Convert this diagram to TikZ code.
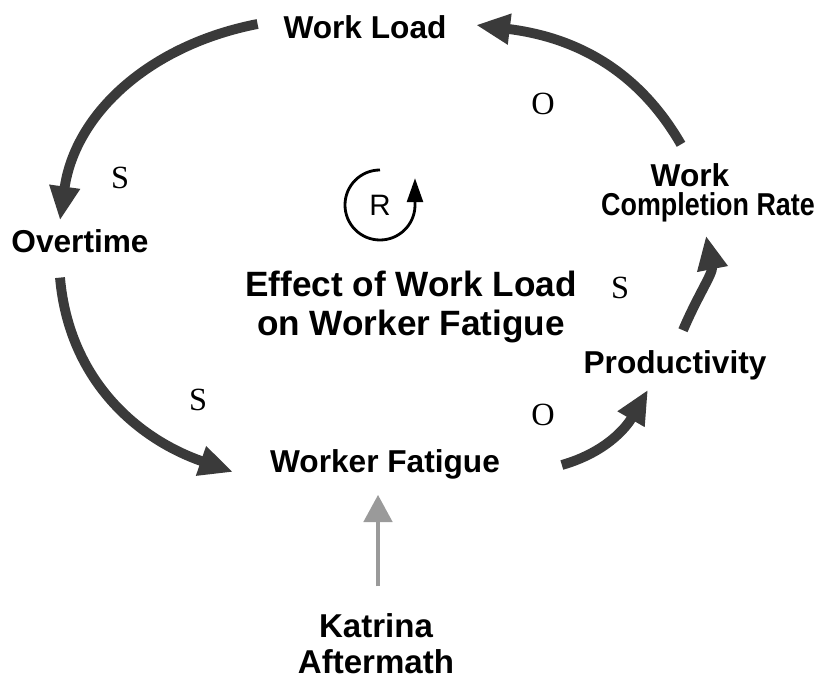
\documentclass[tikz,border=0pt]{standalone}
\usepackage{fontspec}
\setmainfont{Liberation Sans}
\newfontfamily\polfont{Liberation Serif}
\usepackage{graphicx}
\usepackage{tikz}
\usetikzlibrary{arrows.meta, positioning, calc}
\definecolor{linkgray}{HTML}{3A3A3A}
\definecolor{extgray}{HTML}{9A9A9A}
\tikzset{
  var/.style={font=\fontsize{22.5}{25}\selectfont\bfseries, align=center,
              inner sep=0pt, outer sep=0pt},
  looptitle/.style={font=\fontsize{25}{27.7}\selectfont\bfseries, align=center,
                    inner sep=0pt},
  pol/.style={font=\polfont\fontsize{23}{23}\selectfont, inner sep=0pt},
  link/.style={draw=linkgray, line width=7pt,
               -{Triangle[length=0.85cm, width=0.72cm]}},
  extlink/.style={draw=extgray, line width=3.5pt,
                  -{Triangle[length=0.68cm, width=0.7cm]}},
  loopsign/.style={draw, line width=2pt,
                   -{Triangle[length=0.6cm, width=0.4cm]}},
}

\begin{document}
\begin{tikzpicture}[x=0.025cm, y=0.025cm]
  \useasboundingbox (0,0) rectangle (820,682);

  % Variables
  \node[var] (load) at (365,655) {Work Load};
  \node[var] (over) at (80,441) {Overtime};
  \node[var] (fatigue) at (385,218) {Worker Fatigue};
  \node[var] (prod) at (675,317) {Productivity};
  \node[var, font=\fontsize{22.5}{20.5}\selectfont\bfseries] (rate) at (708,489.5)
    {Work\hspace*{25.6pt}\\\scalebox{0.85}[1]{Completion Rate}};
  \node[var, font=\fontsize{23.5}{25.6}\selectfont\bfseries] (katrina) at (376,38.5)
    {Katrina\\Aftermath};

  % Loop name
  \node[looptitle] (title) at (411,374.6) {Effect of Work Load\\on Worker Fatigue};
  \node[font=\fontsize{21}{21}\selectfont, inner sep=0pt] (rsym) at (380,477) {R};
  \draw[loopsign] (rsym.center) ++(90:0.875cm) arc[start angle=90, end angle=358,
    radius=0.875cm] -- ++(0,28);

  % Causal links
  \draw[link] ($(load.west)+(-26,3)$) to[out=191, in=82] ($(over.north)+(-20,9)$);
  \draw[link] ($(over.south)+(-20,-25)$) to[out=275, in=161] ($(fatigue.west)+(-37,-8)$);
  \draw[link] ($(fatigue.east)+(62,-1)$) to[out=16, in=240] ($(prod.south)+(-27,-10)$);
  \draw[link] ($(prod.north)+(8,20)$) to[out=67, in=281] ($(rate.south)+(-2,-14)$);
  \draw[link] ($(rate.north)+(-27,19)$) to[out=120, in=353] ($(load.east)+(29.5,2)$);
  \draw[extlink] ($(katrina.north)+(2,27)$) -- ($(fatigue.south)+(-7,-16)$);

  % Polarities
  \node[pol] (pol1) at (120,504) {S};
  \node[pol] (pol2) at (198,282) {S};
  \node[pol] (pol3) at (543,578) {O};
  \node[pol] (pol4) at (620,394) {S};
  \node[pol] (pol5) at (543,267) {O};
\end{tikzpicture}
\end{document}
